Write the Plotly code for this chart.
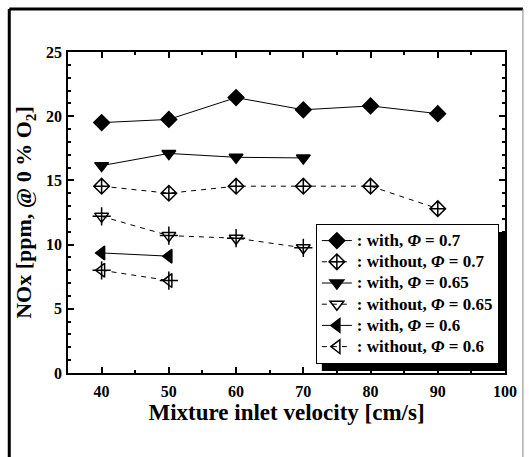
import plotly.graph_objects as go

velocity = [40, 50, 60, 70, 80, 90]
with_07 = [19.5, 19.75, 21.45, 20.5, 20.8, 20.2]
without_07 = [14.55, 14.0, 14.55, 14.55, 14.55, 12.8]
with_065 = [16.15, 17.1, 16.8, 16.75]
without_065 = [12.2, 10.7, 10.5, 9.75]
with_06 = [9.35, 9.1]
without_06 = [8.0, 7.2]

FONT = "Liberation Serif"
PHI = "<i>Φ</i>"

def lab(s):
    return '<span style="font-size:17px">' + s + "</span>"

series = [
    (": with, " + PHI + " = 0.7", velocity[:6], with_07, "diamond", "solid", False),
    (": without, " + PHI + " = 0.7", velocity[:6], without_07, "diamond-cross-open", "dash", False),
    (": with, " + PHI + " = 0.65", velocity[:4], with_065, "triangle-down", "solid", False),
    (": without, " + PHI + " = 0.65", velocity[:4], without_065, "triangle-down-open", "dash", True),
    (": with, " + PHI + " = 0.6", velocity[:2], with_06, "triangle-left", "solid", False),
    (": without, " + PHI + " = 0.6", velocity[:2], without_06, "triangle-left-open", "dash", True),
]

fig = go.Figure()
for name, x, y, sym, dash, cross in series:
    fig.add_trace(go.Scatter(
        x=x, y=y, name=lab(name), mode="lines+markers",
        line=dict(color="black", width=1, dash="5px,5px" if dash == "dash" else "solid"),
        marker=dict(symbol=sym, size=12, color="black",
                    line=dict(color="black", width=1.5)),
    ))
    if cross:
        fig.add_trace(go.Scatter(
            x=x, y=y, mode="markers", showlegend=False, hoverinfo="skip",
            marker=dict(symbol="cross-thin-open", size=13, color="black",
                        line=dict(color="black", width=1.5)),
        ))

L, R, T, B = 68, 507, 52, 373
def px(xp):
    return (xp - L) / (R - L)
def py(yp):
    return (B - yp) / (B - T)

# legend shadow
fig.add_shape(type="rect", xref="paper", yref="paper",
              x0=px(323), x1=px(507), y0=py(371), y1=py(232),
              fillcolor="black", line=dict(width=0), layer="below")
# outer frame
fig.add_shape(type="line", xref="paper", yref="paper", x0=px(9), x1=px(9), y0=py(470), y1=py(9),
              line=dict(color="black", width=3))
fig.add_shape(type="line", xref="paper", yref="paper", x0=px(9), x1=px(525), y0=py(9), y1=py(9),
              line=dict(color="black", width=3))
fig.add_shape(type="line", xref="paper", yref="paper", x0=px(525), x1=px(525), y0=py(470), y1=py(9),
              line=dict(color="#888888", width=1))

axis_common = dict(showline=True, linecolor="black", linewidth=1.5, mirror="allticks",
                   ticks="inside", tickcolor="black", ticklen=6, tickwidth=1.5,
                   showgrid=False, zeroline=False,
                   tickfont=dict(family=FONT, size=16, color="black", weight="bold"))

fig.update_xaxes(range=[35, 100], dtick=10, tick0=0, ticklabelstandoff=3,
                 minor=dict(dtick=5, ticks="inside", ticklen=3, tickcolor="black"),
                 title=dict(text="Mixture inlet velocity [cm/s]", standoff=5,
                            font=dict(family=FONT, size=23, color="black", weight="bold")),
                 **axis_common)
fig.update_yaxes(range=[0, 25], dtick=5, tick0=0, ticklabelstandoff=1,
                 minor=dict(dtick=1, ticks="inside", ticklen=3, tickcolor="black"),
                 title=dict(text="NOx [ppm, @ 0 % O<sub>2</sub>]", standoff=8,
                            font=dict(family=FONT, size=22, color="black", weight="bold")),
                 **axis_common)

fig.update_layout(
    width=529, height=457,
    margin=dict(l=68, r=22, t=52, b=84),
    paper_bgcolor="white", plot_bgcolor="white",
    font=dict(family=FONT, color="black", weight="bold"),
    showlegend=True,
    legend=dict(x=px(317), y=py(224), xanchor="left", yanchor="top",
                bgcolor="white", bordercolor="black", borderwidth=1,
                font=dict(family=FONT, size=14, color="black", weight="bold"),
                itemwidth=30, tracegroupgap=0),
)

fig.write_html("out.html")
